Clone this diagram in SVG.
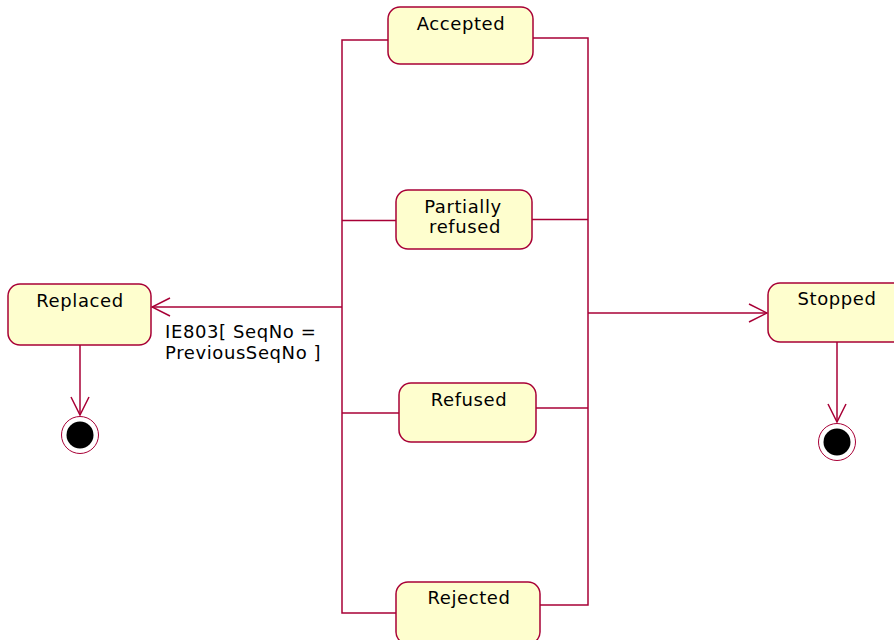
<svg xmlns="http://www.w3.org/2000/svg" width="894" height="640" viewBox="0 0 894 640">
<defs>
<style>
.st{fill:#FEFECE;stroke:#A80036;stroke-width:1.5}
.t{font-family:"DejaVu Sans",Verdana,sans-serif;font-size:18px;fill:#000;letter-spacing:0.6px}
.c{text-anchor:middle}
.ln{fill:none;stroke:#A80036;stroke-width:1.5}
.end-o{fill:none;stroke:#A80036;stroke-width:1}
</style>
<marker id="ah" viewBox="0 0 20 20" refX="19" refY="10" markerWidth="20" markerHeight="20" markerUnits="userSpaceOnUse" orient="auto">
<path d="M1,1 L19,10 L1,19" fill="none" stroke="#A80036" stroke-width="1.5"/>
</marker>
</defs>
<rect width="894" height="640" fill="#FFFFFF"/>
<g id="connectors">
<path class="ln" d="M388,40 H342 V613 H396"/>
<path class="ln" d="M342,220.5 H396"/>
<path class="ln" d="M342,413 H399"/>
<path class="ln" d="M533,38 H588 V605 H540"/>
<path class="ln" d="M532,219.5 H588"/>
<path class="ln" d="M536,408 H588"/>
<path class="ln" d="M342,307 H152" marker-end="url(#ah)"/>
<path class="ln" d="M588,313 H767" marker-end="url(#ah)"/>
<path class="ln" d="M80,345 V415" marker-end="url(#ah)"/>
<path class="ln" d="M837,342 V422" marker-end="url(#ah)"/>
<text class="t" x="165" y="338">IE803[ SeqNo =</text>
<text class="t" x="165" y="359">PreviousSeqNo ]</text>
</g>
<g id="Accepted">
<rect class="st" x="388" y="7" width="145" height="57" rx="12"/>
<text class="t c" x="461" y="30">Accepted</text>
</g>
<g id="PartiallyRefused">
<rect class="st" x="396" y="190" width="136" height="59" rx="12"/>
<text class="t c" x="463" y="213">Partially</text>
<text class="t c" x="465" y="233">refused</text>
</g>
<g id="Refused">
<rect class="st" x="399" y="383" width="137" height="59" rx="12"/>
<text class="t c" x="469" y="406">Refused</text>
</g>
<g id="Rejected">
<rect class="st" x="396" y="582" width="144" height="62" rx="12"/>
<text class="t c" x="469" y="604">Rejected</text>
</g>
<g id="Replaced">
<rect class="st" x="8" y="284" width="143" height="61" rx="12"/>
<text class="t c" x="80" y="307">Replaced</text>
</g>
<g id="Stopped">
<rect class="st" x="768" y="283" width="145" height="59" rx="12"/>
<text class="t c" x="837" y="305">Stopped</text>
</g>
<g id="EndReplaced">
<circle class="end-o" cx="80" cy="435" r="18.5"/>
<circle cx="80" cy="435" r="13.5" fill="#000"/>
</g>
<g id="EndStopped">
<circle class="end-o" cx="837" cy="442" r="18.5"/>
<circle cx="837" cy="442" r="13.5" fill="#000"/>
</g>
</svg>
